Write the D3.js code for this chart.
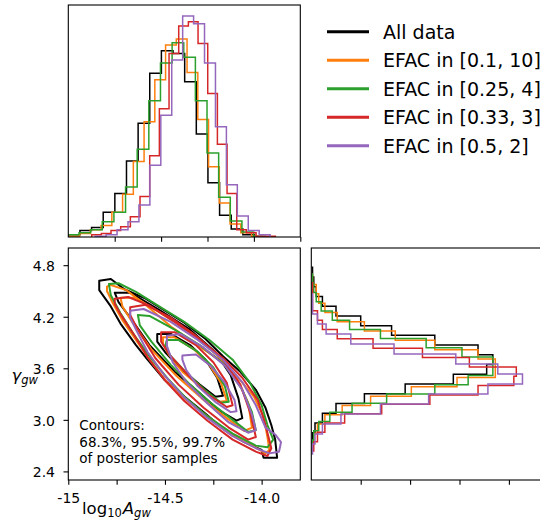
<!DOCTYPE html>
<html><head><meta charset="utf-8">
<script src="https://cdn.jsdelivr.net/npm/d3@7"></script>
<style>body{margin:0;background:#fff}svg{display:block;font-family:"DejaVu Sans",sans-serif}</style>
</head><body><svg id="c" width="540" height="520"></svg>
<script>
const seriesNames = ["All data","EFAC in [0.1, 10]","EFAC in [0.25, 4]","EFAC in [0.33, 3]","EFAC in [0.5, 2]"];
const seriesColors = ["#000000","#ff7f0e","#2ca02c","#d62728","#9467bd"];

// ---- log10 A_gw marginal: bin start, bin width, densities ----
const ampBinStart = [-15.0, -14.997, -15.005, -14.874, -14.855];
const ampBinWidth = [0.0627, 0.0579, 0.0627, 0.0521, 0.0589];
const ampAll   = [0.03,0.09,0.13,0.34,0.60,1.05,1.57,2.26,2.57,2.53,2.14,1.42,0.75,0.30,0.11,0.03];
const ampE10   = [0.01,0.05,0.10,0.16,0.34,0.59,1.04,1.59,2.17,2.65,2.73,2.27,1.62,0.97,0.47,0.18,0.06,0.01];
const ampE4    = [0.03,0.06,0.10,0.21,0.34,0.69,1.21,1.88,2.40,2.68,2.48,1.88,1.16,0.55,0.22,0.07,0.01];
const ampE3    = [0.03,0.05,0.09,0.14,0.28,0.56,1.12,1.77,2.53,2.91,2.97,2.67,1.98,1.28,0.60,0.10,0.06,0.01,0.01];
const ampE2    = [0.01,0.03,0.10,0.21,0.44,0.99,1.68,2.44,3.05,2.94,2.40,1.52,0.72,0.29,0.09,0.03];

// ---- gamma_gw marginal ----
const gamBinStart = [2.737, 2.735, 2.658, 2.637, 2.603];
const gamBinWidth = [0.1133, 0.1082, 0.1073, 0.1088, 0.1164];
const gamAll = [0.01,0.03,0.09,0.20,0.43,0.76,1.15,1.42,1.47,1.35,1.00,0.65,0.40,0.20,0.09,0.04,0.02,0.01];
const gamE10 = [0.02,0.05,0.11,0.25,0.48,0.81,1.18,1.49,1.49,1.35,1.00,0.68,0.43,0.21,0.11,0.06,0.04,0.01];
const gamE4  = [0.01,0.02,0.06,0.15,0.33,0.61,1.00,1.27,1.47,1.47,1.22,0.93,0.56,0.31,0.17,0.08,0.04,0.02,0.01];
const gamE3  = [0.02,0.05,0.11,0.27,0.57,0.96,1.35,1.64,1.66,1.28,0.90,0.50,0.21,0.09,0.05,0.01,0.01,0.01];
const gamE2  = [0.01,0.03,0.09,0.24,0.56,0.95,1.43,1.71,1.51,1.17,0.67,0.32,0.12,0.05,0.01,0.01];

// ---- 2D credible contours [log10A, gamma]: 99.7%, 95.5%, 68.3% ----
const contAll = [
 [[-14.84,4.62],[-14.78,4.64],[-14.71,4.52],[-14.60,4.41],[-14.50,4.27],[-14.40,4.13],[-14.29,3.94],[-14.20,3.74],[-14.11,3.56],[-14.03,3.35],[-13.98,3.14],[-13.95,2.94],[-13.93,2.77],[-13.92,2.56],[-13.99,2.56],[-14.00,2.65],[-14.09,2.74],[-14.19,2.88],[-14.29,3.07],[-14.40,3.27],[-14.50,3.46],[-14.59,3.70],[-14.65,3.87],[-14.73,4.12],[-14.78,4.32],[-14.84,4.51]],
 [[-14.76,4.48],[-14.68,4.48],[-14.53,4.28],[-14.37,4.05],[-14.24,3.79],[-14.16,3.52],[-14.12,3.25],[-14.10,3.02],[-14.13,2.99],[-14.22,3.11],[-14.32,3.31],[-14.45,3.56],[-14.58,3.87],[-14.68,4.19],[-14.74,4.37]],
 [[-14.54,4.00],[-14.47,4.00],[-14.37,3.87],[-14.29,3.70],[-14.23,3.49],[-14.20,3.28],[-14.24,3.27],[-14.32,3.41],[-14.42,3.60],[-14.50,3.79],[-14.54,3.91]]
];
const contE10 = [
 [[-14.80,4.55],[-14.78,4.57],[-14.70,4.51],[-14.59,4.32],[-14.46,4.07],[-14.32,3.85],[-14.22,3.70],[-14.11,3.46],[-14.04,3.27],[-13.99,3.04],[-13.97,2.80],[-13.96,2.65],[-13.98,2.61],[-14.04,2.69],[-14.15,2.82],[-14.28,3.04],[-14.39,3.23],[-14.49,3.44],[-14.58,3.70],[-14.65,3.93],[-14.72,4.16],[-14.77,4.36],[-14.80,4.50]],
 [[-14.73,4.42],[-14.65,4.42],[-14.52,4.24],[-14.36,4.01],[-14.23,3.75],[-14.13,3.49],[-14.07,3.20],[-14.05,2.91],[-14.09,2.87],[-14.18,3.02],[-14.31,3.25],[-14.44,3.51],[-14.57,3.82],[-14.67,4.14],[-14.72,4.32]],
 [[-14.51,3.96],[-14.45,3.96],[-14.35,3.82],[-14.27,3.64],[-14.21,3.43],[-14.18,3.22],[-14.22,3.21],[-14.30,3.35],[-14.41,3.56],[-14.48,3.76],[-14.51,3.88]]
];
const contE4 = [
 [[-14.79,4.58],[-14.74,4.59],[-14.65,4.49],[-14.53,4.32],[-14.40,4.14],[-14.27,3.93],[-14.15,3.70],[-14.06,3.43],[-14.00,3.17],[-13.97,2.94],[-13.94,2.77],[-13.97,2.68],[-14.03,2.70],[-14.15,2.84],[-14.28,3.04],[-14.39,3.25],[-14.49,3.49],[-14.58,3.74],[-14.66,3.99],[-14.73,4.24],[-14.78,4.45]],
 [[-14.64,4.22],[-14.58,4.21],[-14.45,4.05],[-14.32,3.87],[-14.19,3.64],[-14.10,3.35],[-14.05,3.09],[-14.03,2.88],[-14.07,2.86],[-14.15,3.00],[-14.27,3.21],[-14.37,3.41],[-14.47,3.64],[-14.57,3.91],[-14.63,4.10]],
 [[-14.49,3.93],[-14.43,3.93],[-14.33,3.79],[-14.25,3.61],[-14.19,3.39],[-14.17,3.21],[-14.21,3.20],[-14.29,3.34],[-14.39,3.55],[-14.47,3.74],[-14.50,3.85]]
];
const contE3 = [
 [[-14.76,4.41],[-14.69,4.43],[-14.58,4.33],[-14.45,4.14],[-14.32,3.93],[-14.20,3.72],[-14.10,3.49],[-14.02,3.23],[-13.98,2.94],[-13.95,2.67],[-13.97,2.58],[-14.03,2.63],[-14.15,2.77],[-14.28,2.99],[-14.40,3.22],[-14.50,3.46],[-14.59,3.73],[-14.66,3.99],[-14.73,4.23],[-14.76,4.35]],
 [[-14.68,4.31],[-14.60,4.34],[-14.47,4.19],[-14.33,3.96],[-14.20,3.70],[-14.11,3.41],[-14.06,3.09],[-14.03,2.80],[-14.07,2.77],[-14.17,2.91],[-14.30,3.14],[-14.43,3.41],[-14.55,3.72],[-14.64,4.05],[-14.68,4.22]],
 [[-14.52,4.02],[-14.45,4.02],[-14.34,3.87],[-14.25,3.67],[-14.18,3.43],[-14.15,3.17],[-14.18,3.15],[-14.28,3.30],[-14.38,3.52],[-14.47,3.74],[-14.52,3.91]]
];
const contE2 = [
 [[-14.68,4.27],[-14.61,4.29],[-14.47,4.14],[-14.33,3.93],[-14.20,3.70],[-14.10,3.44],[-14.03,3.17],[-13.98,2.91],[-13.93,2.83],[-13.90,2.74],[-13.91,2.63],[-13.96,2.61],[-14.03,2.67],[-14.15,2.81],[-14.28,3.02],[-14.40,3.26],[-14.50,3.51],[-14.59,3.79],[-14.65,4.05],[-14.68,4.19]],
 [[-14.49,3.98],[-14.42,4.00],[-14.30,3.84],[-14.19,3.63],[-14.10,3.35],[-14.05,3.06],[-14.03,2.88],[-14.07,2.85],[-14.17,2.97],[-14.28,3.19],[-14.39,3.44],[-14.46,3.67],[-14.49,3.86]],
 [[-14.41,3.75],[-14.34,3.76],[-14.26,3.62],[-14.19,3.43],[-14.14,3.23],[-14.13,3.10],[-14.16,3.09],[-14.24,3.21],[-14.33,3.39],[-14.39,3.58],[-14.41,3.70]]
];

const xTickVals = [-15, -14.75, -14.5, -14.25, -14.0];
const xTickLabels = ["-15", "", "-14.5", "", "-14.0"];
const yTickVals = [4.8, 4.2, 3.6, 3.0, 2.4];
const yTickLabels = ["4.8", "4.2", "3.6", "3.0", "2.4"];
const topTickVals = [-14.75, -14.5, -14.25, -14.0, -13.75];
const rightTickVals = [0.4, 0.8, 1.2, 1.6];
const noteLines = ["Contours:", "68.3%, 95.5%, 99.7%", "of posterior samples"];

const ampSeries = [ampAll, ampE10, ampE4, ampE3, ampE2];
const gamSeries = [gamAll, gamE10, gamE4, gamE3, gamE2];
const contSeries = [contAll, contE10, contE4, contE3, contE2];

// ---- layout ----
const L = 68.3, W = 232, T1 = 5, T2 = 248, R2 = 311.3;
const svg = d3.select("#c");

const xTop = d3.scaleLinear().domain([-15, -13.75]).range([L, L + W]);
const yTop = d3.scaleLinear().domain([0, 3.2]).range([T1 + W, T1]);
const xMain = d3.scaleLinear().domain([-15, -13.8]).range([L, L + W]);
const yMain = d3.scaleLinear().domain([2.3, 5.0]).range([T2 + W, T2]);
const xRight = d3.scaleLinear().domain([0, 232 / 123.5]).range([R2, R2 + W]);

const defs = svg.append("defs");
function clip(id, x, y) {
  defs.append("clipPath").attr("id", id).append("rect").attr("x", x).attr("y", y).attr("width", W).attr("height", W);
}
clip("cTop", L, T1); clip("cMain", L, T2); clip("cRight", R2, T2);

// top histogram
const gTop = svg.append("g").attr("clip-path", "url(#cTop)");
ampSeries.forEach((vals, s) => {
  const pts = [];
  const e = i => ampBinStart[s] + i * ampBinWidth[s];
  pts.push([e(0), 0]);
  vals.forEach((v, i) => { pts.push([e(i), v]); pts.push([e(i + 1), v]); });
  pts.push([e(vals.length), 0]);
  gTop.append("path").attr("d", d3.line().x(d => xTop(d[0])).y(d => yTop(d[1]))(pts))
    .attr("fill", "none").attr("stroke", seriesColors[s]).attr("stroke-width", 1.5).attr("stroke-linejoin", "miter");
});

// right histogram
const gRight = svg.append("g").attr("clip-path", "url(#cRight)");
gamSeries.forEach((vals, s) => {
  const pts = [];
  const e = i => gamBinStart[s] + i * gamBinWidth[s];
  pts.push([0, e(0)]);
  vals.forEach((v, i) => { pts.push([v, e(i)]); pts.push([v, e(i + 1)]); });
  pts.push([0, e(vals.length)]);
  gRight.append("path").attr("d", d3.line().x(d => xRight(d[0])).y(d => yMain(d[1]))(pts))
    .attr("fill", "none").attr("stroke", seriesColors[s]).attr("stroke-width", 1.5);
});

// contours
const gMain = svg.append("g").attr("clip-path", "url(#cMain)");
const cLine = d3.line().x(d => xMain(d[0])).y(d => yMain(d[1])).curve(d3.curveLinearClosed);
contSeries.forEach((levels, s) => {
  levels.forEach(poly => {
    gMain.append("path").attr("d", cLine(poly)).attr("fill", "none")
      .attr("stroke", seriesColors[s]).attr("stroke-width", 2).attr("stroke-linejoin", "round");
  });
});

// frames
[[L, T1], [L, T2], [R2, T2]].forEach(([x, y]) => {
  svg.append("rect").attr("x", x).attr("y", y).attr("width", W).attr("height", W)
    .attr("fill", "none").attr("stroke", "#000").attr("stroke-width", 1.1);
});

// axes
function styleAxis(g, fs) {
  g.select(".domain").remove();
  g.selectAll("line").attr("stroke", "#000").attr("stroke-width", 1.1);
  g.selectAll("text").attr("fill", "#000").style("font-size", fs + "px").style("font-family", "DejaVu Sans");
}
const axTop = svg.append("g").attr("transform", `translate(0,${T1 + W})`)
  .call(d3.axisBottom(xTop).tickValues(topTickVals).tickSize(4.8).tickFormat(""));
styleAxis(axTop, 14);
const axRight = svg.append("g").attr("transform", `translate(0,${T2 + W})`)
  .call(d3.axisBottom(xRight).tickValues(rightTickVals).tickSize(4.8).tickFormat(""));
styleAxis(axRight, 14);
const axX = svg.append("g").attr("transform", `translate(0,${T2 + W})`)
  .call(d3.axisBottom(xMain).tickValues(xTickVals).tickSize(4.8).tickPadding(8)
    .tickFormat((d, i) => xTickLabels[i]));
styleAxis(axX, 14);
const axY = svg.append("g").attr("transform", `translate(${L},0)`)
  .call(d3.axisLeft(yMain).tickValues(yTickVals).tickSize(4.8).tickPadding(8.5)
    .tickFormat((d, i) => yTickLabels[i]));
styleAxis(axY, 14);
axY.selectAll("text").attr("dy", "0.38em");

// axis labels
const xl = svg.append("text").attr("x", 82).attr("y", 514).style("font-size", "16.5px").attr("fill", "#000");
xl.append("tspan").text("log");
xl.append("tspan").attr("dy", 3).style("font-size", "11.5px").text("10");
xl.append("tspan").attr("dy", -3).attr("dx", 1).style("font-style", "italic").text("A");
xl.append("tspan").attr("dy", 3).style("font-size", "11.5px").style("font-style", "italic").text("gw");

const yl = svg.append("text").attr("x", 11.5).attr("y", 381).style("font-size", "16.5px").attr("fill", "#000");
yl.append("tspan").style("font-style", "italic").text("γ");
yl.append("tspan").attr("dy", 3).style("font-size", "11.5px").style("font-style", "italic").text("gw");

// contours note
noteLines.forEach((t, i) => {
  svg.append("text").attr("x", 79.3).attr("y", 430 + i * 16.7).style("font-size", "13.5px").attr("fill", "#000").text(t);
});

// legend
seriesNames.forEach((n, i) => {
  const y = 31.7 + i * 28.5;
  svg.append("line").attr("x1", 327).attr("x2", 369).attr("y1", y).attr("y2", y)
    .attr("stroke", seriesColors[i]).attr("stroke-width", 3);
  svg.append("text").attr("x", 383).attr("y", y + 6.8).style("font-size", "19px").attr("fill", "#000").text(n);
});
</script></body></html>
